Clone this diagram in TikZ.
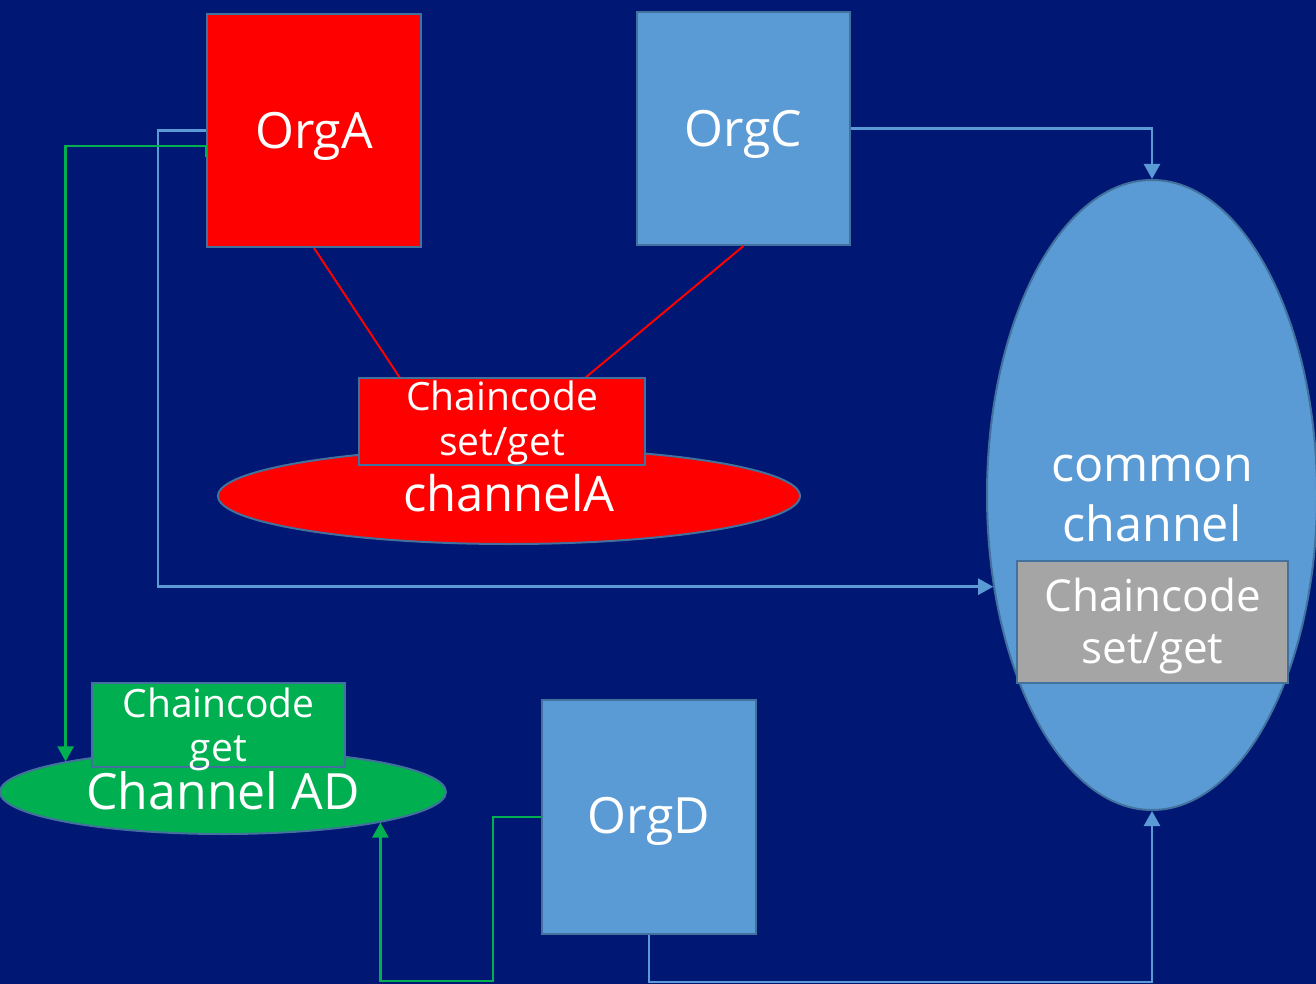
\documentclass[tikz,border=0pt]{standalone}
\usepackage{fontspec}
\setmainfont{Open Sans}
\usetikzlibrary{shapes.geometric,arrows.meta}
\definecolor{bgblue}{RGB}{0,23,115}
\definecolor{orgblue}{RGB}{91,155,213}
\definecolor{edgeblue}{RGB}{65,113,156}
\definecolor{chgreen}{RGB}{0,176,80}
\definecolor{ccgrey}{RGB}{165,165,165}
% move a line of text vertically without changing the space it takes
\newcommand{\lowerby}[2]{\raisebox{-#1}[\height][\depth]{#2}}
\tikzset{
  x=1pt, y=-1pt,
  orgbox/.style={draw=edgeblue, line width=2pt, rectangle, inner sep=0pt,
    text=white, font=\fontsize{50}{54}\selectfont},
  ccbox/.style={draw=edgeblue, line width=2pt, rectangle, inner sep=0pt,
    text=white, align=center},
  chan/.style={draw=edgeblue, line width=2pt, ellipse, inner sep=0pt,
    text=white, align=center},
  bluelink/.style={draw=orgblue, line width=2.5pt,
    -{Triangle[length=15pt,width=16pt]}},
  greenlink/.style={draw=chgreen, line width=2.5pt,
    -{Triangle[length=15pt,width=16pt]}},
  redlink/.style={draw=red, line width=2pt},
}
\begin{document}
\begin{tikzpicture}
% background
\fill[bgblue] (0,0) rectangle (1316,984);
\useasboundingbox (0,0) rectangle (1316,984);

% channels
\node[chan, fill=red, minimum width=582pt, minimum height=96pt,
      font=\fontsize{49}{52}\selectfont] (chA) at (509,496) {\lowerby{-3pt}{channelA}};
\node[chan, fill=chgreen, minimum width=446pt, minimum height=84pt,
      font=\fontsize{50}{52}\selectfont] (chAD) at (223,792) {\lowerby{-1pt}{Channel AD}};
\node[chan, fill=orgblue, minimum width=330pt, minimum height=630pt,
      font=\fontsize{48.5}{56}\selectfont] (common) at (1152,495)
      {\lowerby{2pt}{common}\\\lowerby{6pt}{channel}};

% organisations
\node[orgbox, fill=red, minimum width=214pt, minimum height=233pt] (orgA) at (314,130.5) {\lowerby{6pt}{OrgA}};
\node[orgbox, fill=orgblue, minimum width=213pt, minimum height=233pt] (orgC) at (743.5,128.5) {\lowerby{6pt}{OrgC}};
\node[orgbox, fill=orgblue, minimum width=214pt, minimum height=234pt] (orgD) at (649,817) {\lowerby{4pt}{OrgD}};

% links between orgs and channelA chaincode
\draw[redlink] (orgA.south) -- (400,378) coordinate (ra);
\draw[redlink] (orgC.south) -- (585,378) coordinate (rc);

% chaincode boxes
\node[ccbox, fill=red, minimum width=286pt, minimum height=87pt,
      font=\fontsize{39}{45}\selectfont] (ccA) at (502,421.5)
      {\lowerby{1pt}{Chaincode}\\\lowerby{1pt}{set/get}};
\node[ccbox, fill=chgreen, minimum width=253pt, minimum height=84pt,
      font=\fontsize{39}{44}\selectfont] (ccAD) at (218.5,725)
      {\lowerby{4pt}{Chaincode}\\\lowerby{4pt}{get}};
\node[ccbox, fill=ccgrey, minimum width=271pt, minimum height=122pt,
      font=\fontsize{44}{52}\selectfont] (ccC) at (1152.5,622)
      {\lowerby{4pt}{Chaincode}\\\lowerby{4pt}{set/get}};

% connectors
\draw[bluelink] (orgC.east) -| (common.north);
\draw[bluelink] (orgA.west) -- ++(-48,0) |- (common.210.5);
\draw[greenlink] ([yshift=-26.5pt]orgA.west) -- ++(0,-11) -| (chAD.169.4);
\draw[greenlink] (orgD.west) -- ++(-48,0) -- ++(0,164) -| (chAD.349.25);
\draw[bluelink] (orgD.south) -- ++(0,47) -| (common.south);
\end{tikzpicture}
\end{document}
